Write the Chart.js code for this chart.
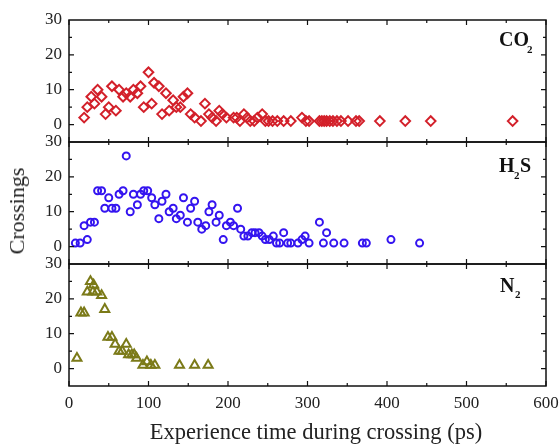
<!DOCTYPE html>
<html>
<head>
<meta charset="utf-8">
<script src="https://cdn.jsdelivr.net/npm/chart.js@4.4.1/dist/chart.umd.min.js"></script>
<style>
  html, body { margin: 0; padding: 0; background: #fff; }
  #wrap { position: relative; width: 560px; height: 444px; overflow: hidden; }
  #wrap canvas { position: absolute; left: 0; top: 0; }
  .lbl { position: absolute; font-family: "Liberation Serif", serif; font-weight: bold; color: #111; line-height: 1; white-space: nowrap; }
  #ytitle { position: absolute; left: 17px; top: 211px; font-family: "Liberation Serif", serif; font-size: 22px; color: #222;
            transform: translate(-50%, -50%) rotate(-90deg); white-space: nowrap; line-height: 1; }
  #xtitle { position: absolute; left: 316px; top: 432px; font-family: "Liberation Serif", serif; font-size: 22.5px; color: #222;
            transform: translate(-50%, -50%); white-space: nowrap; line-height: 1; }
</style>
</head>
<body>
<div id="wrap">
  <canvas id="co2" width="560" height="444"></canvas>
  <canvas id="h2s" width="560" height="444"></canvas>
  <canvas id="n2" width="560" height="444"></canvas>
  <div id="ytitle">Crossings</div>
  <div id="xtitle">Experience time during crossing (ps)</div>
</div>
<script>
// experience time (ps) and number of crossings
const co2Time = [19, 23, 28, 32, 36, 41, 46, 50, 54, 59, 63, 68, 72, 77, 81, 86, 90, 94, 100, 104,
  107, 113, 117, 122, 126, 131, 135, 140, 144, 149, 153, 158, 166, 171, 176, 180, 185, 189, 193, 198,
  207, 211, 215, 220, 224, 228, 233, 237, 243, 247, 251, 256, 262, 270, 279, 293, 298, 302, 315, 318,
  321, 324, 328, 332, 337, 342, 351, 361, 365, 391, 423, 455, 558];
const co2Crossings = [2, 5, 8, 6, 10, 8, 3, 5, 11, 4, 10, 8, 9, 8, 10, 9, 11, 5, 15, 6,
  12, 11, 3, 9, 4, 7, 5, 5, 8, 9, 3, 2, 1, 6, 3, 2, 1, 4, 3, 2,
  2, 2, 1, 3, 2, 1, 1, 2, 3, 1, 1, 1, 1, 1, 1, 2, 1, 1, 1, 1,
  1, 1, 1, 1, 1, 1, 1, 1, 1, 1, 1, 1, 1];

const h2sTime = [8, 14, 19, 23, 27, 32, 36, 41, 45, 50, 54, 59, 63, 68, 72, 77, 81, 86, 90, 94,
  99, 104, 108, 113, 117, 122, 126, 131, 135, 140, 144, 149, 153, 158, 162, 167, 172, 176, 180, 185,
  189, 194, 198, 203, 207, 212, 216, 220, 225, 230, 234, 239, 243, 247, 252, 257, 261, 265, 270, 275,
  279, 288, 293, 297, 302, 315, 320, 324, 333, 346, 369, 374, 405, 441];
const h2sCrossings = [1, 1, 6, 2, 7, 7, 16, 16, 11, 14, 11, 11, 15, 16, 26, 10, 15, 12, 15, 16,
  16, 14, 12, 8, 13, 15, 10, 11, 8, 9, 14, 7, 11, 13, 7, 5, 6, 10, 12, 7,
  9, 2, 6, 7, 6, 11, 5, 3, 3, 4, 4, 4, 3, 2, 2, 3, 1, 1, 4, 1,
  1, 1, 2, 3, 1, 7, 1, 4, 1, 1, 1, 1, 2, 1];

const n2Time = [10, 15, 19, 23, 27, 30, 31, 35, 41, 45, 49, 54, 58, 63, 67, 72, 75, 79, 82, 85,
  93, 98, 103, 108, 139, 158, 175];
const n2Crossings = [3, 16, 16, 22, 25, 22, 24, 22, 21, 17, 9, 9, 7, 5, 5, 7, 4, 4, 4, 3,
  1, 2, 1, 1, 1, 1, 1];

const xTickValues = [0, 100, 200, 300, 400, 500, 600];
const yTickLabels = [0, 10, 20, 30];

const AXIS_FONT = { family: "Liberation Serif", size: 17 };
const PLOT_LEFT = 69;
const PLOT_RIGHT = 546;

// Draw the box around each panel plus inward ticks on all four sides.
const framePlugin = {
  id: "frame",
  afterDatasetsDraw(chart) {
    const { ctx, chartArea: a, scales } = chart;
    const xs = scales.x;
    const ys = scales.y;
    ctx.save();
    ctx.strokeStyle = "#111";
    ctx.lineWidth = 1.5;
    ctx.strokeRect(a.left, a.top, a.right - a.left, a.bottom - a.top);
    ctx.lineWidth = 1.2;
    ctx.beginPath();
    for (let v = 0; v <= 600; v += 50) {
      const px = xs.getPixelForValue(v);
      const len = v % 100 === 0 ? 5 : 3;
      ctx.moveTo(px, a.bottom);
      ctx.lineTo(px, a.bottom - len);
      ctx.moveTo(px, a.top);
      ctx.lineTo(px, a.top + len);
    }
    for (let v = 0; v < 30; v += 5) {
      const py = ys.getPixelForValue(v);
      const len = v % 10 === 0 ? 5 : 3;
      ctx.moveTo(a.left, py);
      ctx.lineTo(a.left + len, py);
      ctx.moveTo(a.right, py);
      ctx.lineTo(a.right - len, py);
    }
    ctx.stroke();
    ctx.restore();
  },
};

const makePanel = ({ id, time, crossings, color, pointStyle, radius, top, bottom, showX }) => {
  const points = time.map((t, i) => ({ x: t, y: crossings[i] }));
  return new Chart(document.getElementById(id), {
    type: "scatter",
    data: {
      datasets: [{
        data: points,
        pointStyle,
        pointRadius: radius,
        pointBorderWidth: 2,
        borderColor: color,
        backgroundColor: "rgba(0,0,0,0)",
      }],
    },
    options: {
      responsive: false,
      animation: false,
      events: [],
      layout: { padding: { top, bottom: showX ? 0 : 444 - bottom, left: 0, right: 560 - PLOT_RIGHT } },
      plugins: { legend: { display: false }, tooltip: { enabled: false } },
      scales: {
        x: {
          type: "linear",
          min: 0,
          max: 600,
          display: showX,
          afterBuildTicks: (s) => { s.ticks = xTickValues.map((v) => ({ value: v })); },
          afterFit: (s) => {
            s.height = showX ? 444 - bottom : 0;
            s.paddingLeft = 0;
            s.paddingRight = 0;
          },
          grid: { display: false, drawTicks: false },
          border: { display: false },
          ticks: { color: "#222", font: AXIS_FONT, padding: 7, maxRotation: 0 },
        },
        y: {
          min: -5,
          max: 30,
          afterBuildTicks: (s) => { s.ticks = yTickLabels.map((v) => ({ value: v })); },
          afterFit: (s) => {
            s.width = PLOT_LEFT;
            s.paddingTop = 0;
            s.paddingBottom = 0;
          },
          grid: { display: false, drawTicks: false },
          border: { display: false },
          ticks: { color: "#222", font: AXIS_FONT, padding: 7 },
        },
      },
    },
    plugins: [framePlugin],
  });
};

makePanel({ id: "co2", time: co2Time, crossings: co2Crossings, color: "#d3202a", pointStyle: "rectRot", radius: 4.8, top: 20, bottom: 142, showX: false });
makePanel({ id: "h2s", time: h2sTime, crossings: h2sCrossings, color: "#3414f0", pointStyle: "circle", radius: 3.5, top: 142, bottom: 264, showX: false });
makePanel({ id: "n2", time: n2Time, crossings: n2Crossings, color: "#7b7a18", pointStyle: "triangle", radius: 5.2, top: 264, bottom: 386, showX: true });

// panel labels with subscripts
const addLabel = (text, size, x, baseline) => {
  const el = document.createElement("div");
  el.className = "lbl";
  el.textContent = text;
  el.style.fontSize = size + "px";
  el.style.left = x + "px";
  el.style.top = (baseline - 0.84 * size) + "px";
  document.getElementById("wrap").appendChild(el);
};
addLabel("CO", 20, 499, 46);
addLabel("2", 11, 527, 53);
addLabel("H", 20, 499, 172);
addLabel("2", 11, 514, 179);
addLabel("S", 20, 520, 172);
addLabel("N", 20, 500, 292);
addLabel("2", 11, 515, 298);
</script>
</body>
</html>
